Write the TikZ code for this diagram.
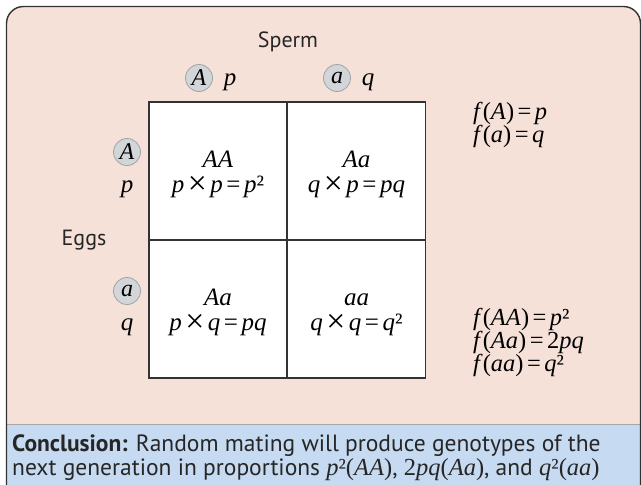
\documentclass[tikz,border=0pt]{standalone}
\usepackage{fontspec}
\usepackage{graphicx}
\setmainfont{Liberation Serif}
\setsansfont{PT Sans}
\definecolor{pinkbg}{HTML}{F6E1D9}
\definecolor{bluebg}{HTML}{C6DAF1}
\definecolor{borderc}{HTML}{333333}
\definecolor{circfill}{HTML}{D3D6D9}
\definecolor{circdraw}{HTML}{9EA3A8}
\tikzset{
  allele/.style={circle, fill=circfill, draw=circdraw, line width=0.8pt, minimum size=27pt, inner sep=0pt, font=\fontsize{24}{24}\selectfont\itshape},
  freq/.style={font=\fontsize{25}{25}\selectfont\itshape, inner sep=0pt},
  cellbox/.style={draw=borderc, fill=white, line width=1.3pt, minimum width=138pt, minimum height=138pt, inner sep=0pt},
  celltext/.style={font=\fontsize{25}{25}\selectfont, inner sep=0pt, anchor=base},
  label/.style={font=\sffamily\fontsize{22}{24}\selectfont, text=black!85, inner sep=0pt},
  eqtext/.style={font=\fontsize{24.5}{24}\selectfont, inner sep=0pt, anchor=base west},
  conc/.style={font=\sffamily\fontsize{23.5}{24}\selectfont, text=black!85, inner sep=0pt, anchor=base west}
}
\newcommand{\vi}[1]{\textit{#1}}
\newcommand{\sq}{²}
\newcommand{\tm}{\hspace{0.14em}\raisebox{-0.1em}{\scalebox{1.35}{×}}\hspace{0.14em}}
\newcommand{\eqs}{\hspace{0.14em}=\hspace{0.14em}}
\newcommand{\mth}{\rmfamily\fontsize{24.5}{24}\selectfont}
\begin{document}
\begin{tikzpicture}[x=1pt,y=-1pt]
\useasboundingbox (0,0) rectangle (641,485);
\begin{scope}
\clip (0,0) rectangle (641,485);
\fill[pinkbg, rounded corners=17pt] (6.5,6.5) rectangle (640.5,520);
\fill[bluebg] (6.5,424) rectangle (641,486);
\draw[black!35, line width=0.8pt] (6.5,424) -- (641,424);
\draw[borderc, line width=1.4pt, rounded corners=17pt] (6.5,520) -- (6.5,6.5) -- (640.5,6.5) -- (640.5,520);
\end{scope}

% grid
\node[cellbox] (c11) at (218,171) {};
\node[cellbox] (c12) at (356.5,171) {};
\node[cellbox] (c21) at (218,309) {};
\node[cellbox] (c22) at (356.5,309) {};

% cell texts
\node[celltext] (t11a) at (218,167) {\vi{AA}};
\node[celltext] (t11b) at (218,192) {\vi{p}\tm\vi{p}\eqs\vi{p}\sq};
\node[celltext] (t12a) at (356.5,167) {\vi{Aa}};
\node[celltext] (t12b) at (356.5,192) {\vi{q}\tm\vi{p}\eqs\vi{pq}};
\node[celltext] (t21a) at (218,305) {\vi{Aa}};
\node[celltext] (t21b) at (218,330) {\vi{p}\tm\vi{q}\eqs\vi{pq}};
\node[celltext] (t22a) at (356.5,305) {\vi{aa}};
\node[celltext] (t22b) at (356.5,330) {\vi{q}\tm\vi{q}\eqs\vi{q}\sq};

% sperm header
\node[label] (sperm) at (288,42) {Sperm};
\node[allele] (sA) at (199,78) {A};
\node[freq, anchor=base] (sp) at (230,85) {p};
\node[allele] (sa) at (337,78) {a};
\node[freq, anchor=base] (sq) at (368,85) {q};

% eggs header
\node[label] (eggs) at (84,240) {Eggs};
\node[allele] (eA) at (127,152) {A};
\node[freq, anchor=base] (ep) at (127,192) {p};
\node[allele] (ea) at (127,291) {a};
\node[freq, anchor=base] (eq) at (127,330) {q};

% frequencies
\node[eqtext] (fA) at (473,119) {\vi{f}(\vi{A})\eqs\vi{p}};
\node[eqtext] (fa) at (473,142) {\vi{f}(\vi{a})\eqs\vi{q}};
\node[eqtext] (fAA) at (473,325) {\vi{f}(\vi{AA})\eqs\vi{p}\sq};
\node[eqtext] (fAa) at (473,348) {\vi{f}(\vi{Aa})\eqs2\vi{pq}};
\node[eqtext] (faa) at (473,371) {\vi{f}(\vi{aa})\eqs\vi{q}\sq};

% conclusion
\node[conc] (conc1) at (12,451) {\textbf{Conclusion:} Random mating will produce genotypes of the};
\node[conc] (conc2) at (12,475.5) {next generation in proportions {\mth\vi{p}\sq(\vi{AA})}, {\mth 2\vi{pq}(\vi{Aa})}, and {\mth\vi{q}\sq(\vi{aa})}};
\end{tikzpicture}
\end{document}
